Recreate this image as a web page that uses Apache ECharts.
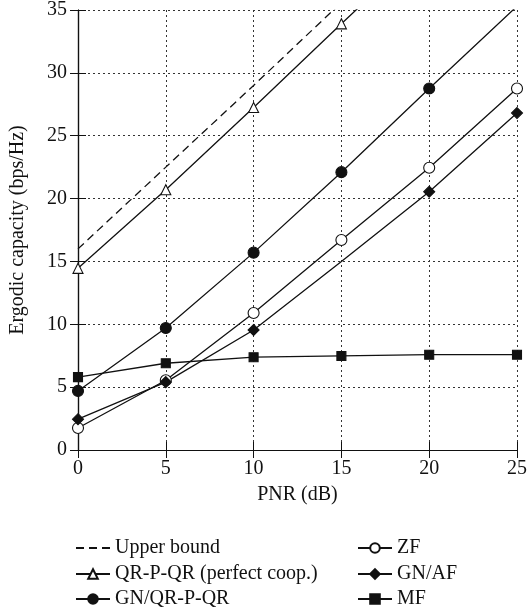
<!DOCTYPE html>
<html><head><meta charset="utf-8">
<script src="https://cdn.jsdelivr.net/npm/echarts@6/dist/echarts.min.js"></script>
<style>html,body{margin:0;padding:0;background:#fff}#c{width:530px;height:615px}</style>
</head><body><div id="c"></div>
<script>
var pnr = [0, 5, 10, 15, 20, 25];
var xTicks = [0, 5, 10, 15, 20, 25];
var yTicks = [0, 5, 10, 15, 20, 25, 30, 35];
var upperBound = [16.0, 22.5, 29.0, 35.6, 42.2, 48.8];
var qrpqrPerfect = [14.45, 20.7, 27.25, 33.9, 40.5, 47.1];
var gnQrpqr = [4.7, 9.7, 15.7, 22.1, 28.75, 35.3];
var zf = [1.75, 5.55, 10.9, 16.7, 22.45, 28.75];
var gnAf = [2.45, 5.4, 9.55, 15.0, 20.55, 26.8];
var mf = [5.8, 6.9, 7.38, 7.48, 7.58, 7.58];
var gnAfUnmarked = [15];
var seriesNames = ['Upper bound', 'QR-P-QR (perfect coop.)', 'GN/QR-P-QR', 'ZF', 'GN/AF', 'MF'];

var font = 'Liberation Serif';
var ink = '#111';
var fs = 20;
function pairs(ys, unmarked) {
  return pnr.map(function (x, i) {
    var item = { value: [x, ys[i]] };
    if (unmarked && unmarked.indexOf(x) >= 0) item.symbol = 'none';
    return item;
  });
}
function lineSeries(name, ys, symbol, size, fill, dash, unmarked) {
  return {
    name: name, type: 'line', data: pairs(ys, unmarked),
    symbol: symbol, symbolSize: size, showSymbol: size > 0,
    lineStyle: { color: ink, width: 1.3, type: dash || 'solid' },
    itemStyle: { color: fill, borderColor: ink, borderWidth: 1.1 },
    emphasis: { disabled: true }, animation: false, clip: true
  };
}
var axisCommon = {
  axisLine: { show: true, lineStyle: { color: ink, width: 1.2 } },
  axisTick: { show: true, inside: true, length: 8, lineStyle: { color: ink } },
  splitLine: { show: false }
};
// legend layout: 2 columns x 3 rows
var legendCols = [75, 357];
var legendRows = [538, 564, 589];
var legends = seriesNames.map(function (n, i) {
  var col = i < 3 ? 0 : 1, row = i % 3;
  var item = { name: n };
  if (i === 0) item.itemStyle = { color: 'rgba(0,0,0,0)', borderColor: 'rgba(0,0,0,0)', borderWidth: 0 };
  return {
    left: legendCols[col], top: legendRows[row], padding: 0,
    itemWidth: 34, itemHeight: 12, data: [item], selectedMode: false,
    textStyle: { fontFamily: font, fontSize: fs, color: ink }
  };
});
var chart = echarts.init(document.getElementById('c'));
chart.setOption({
  backgroundColor: '#fff',
  animation: false,
  grid: { left: 75, right: 11, top: 7, bottom: 165 },
  xAxis: [
    Object.assign({}, axisCommon, {
      type: 'value', min: xTicks[0], max: xTicks[xTicks.length - 1], interval: 5,
      position: 'bottom', name: 'PNR (dB)', nameLocation: 'middle', nameGap: 35,
      nameTextStyle: { fontFamily: font, fontSize: fs, color: ink },
      axisLabel: { fontFamily: font, fontSize: fs, color: ink, margin: 9 },
      splitLine: { show: true, lineStyle: { color: '#333', type: [2, 3], width: 1 } }
    }),
    Object.assign({}, axisCommon, {
      type: 'value', min: xTicks[0], max: xTicks[xTicks.length - 1], interval: 5,
      position: 'top', axisLabel: { show: false }
    })
  ],
  yAxis: [
    Object.assign({}, axisCommon, {
      type: 'value', min: yTicks[0], max: yTicks[yTicks.length - 1], interval: 5,
      position: 'left', name: 'Ergodic capacity (bps/Hz)', nameLocation: 'middle', nameGap: 50,
      nameTextStyle: { fontFamily: font, fontSize: fs, color: ink },
      axisLabel: { fontFamily: font, fontSize: fs, color: ink, margin: 11 },
      splitLine: { show: true, lineStyle: { color: '#333', type: [2, 3], width: 1 } }
    }),
    Object.assign({}, axisCommon, {
      type: 'value', min: yTicks[0], max: yTicks[yTicks.length - 1], interval: 5,
      position: 'right', axisLabel: { show: false }
    })
  ],
  legend: legends,
  series: [
    lineSeries(seriesNames[0], upperBound, 'circle', 0, ink, [8, 5]),
    lineSeries(seriesNames[1], qrpqrPerfect, 'triangle', 10, '#fff'),
    lineSeries(seriesNames[2], gnQrpqr, 'circle', 11, ink),
    lineSeries(seriesNames[3], zf, 'circle', 11, '#fff'),
    lineSeries(seriesNames[4], gnAf, 'diamond', 11, ink, null, gnAfUnmarked),
    lineSeries(seriesNames[5], mf, 'rect', 9, ink)
  ]
});
</script></body></html>
